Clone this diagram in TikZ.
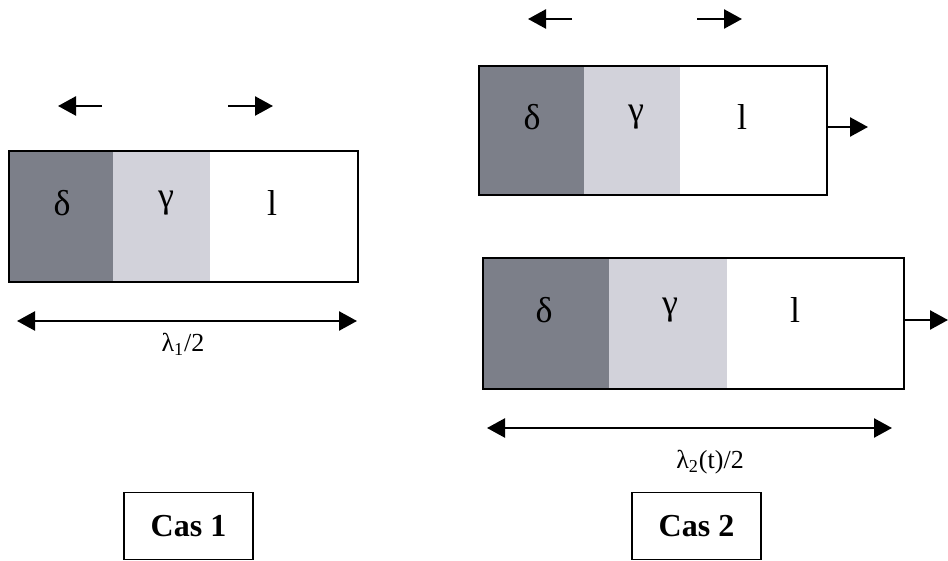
\documentclass[tikz,border=0pt]{standalone}
\usepackage{fontspec}
\setmainfont{Liberation Serif}
\usepackage{tikz}
\definecolor{deltagray}{RGB}{124,127,137}
\definecolor{gammagray}{RGB}{210,210,218}
\usetikzlibrary{arrows.meta}
\usetikzlibrary{positioning}
\tikzset{cell/.style={draw=none,inner sep=0pt,outer sep=0pt}}
\tikzset{phase/.style={font=\fontsize{18}{18}\selectfont}}
\tikzset{dim/.style={font=\fontsize{13}{13}\selectfont}}
\tikzset{line/.style={black,line width=1.2pt,-{Triangle[length=9pt,width=9.5pt]}}}
\tikzset{dline/.style={black,line width=1.2pt,{Triangle[length=9pt,width=9.5pt]}-{Triangle[length=9pt,width=9.5pt]}}}
\tikzset{casbox/.style={draw,line width=0.8pt,minimum width=64.5pt,minimum height=33.5pt,font=\bfseries\fontsize{16}{16}\selectfont}}

\begin{document}
\begin{tikzpicture}[x=0.5pt,y=-0.5pt]
        \useasboundingbox (0,0) rectangle (948,561);
        % Cas 1
        \node[cell,fill=deltagray,minimum width=52pt,minimum height=65.5pt,anchor=north west] (d1) at (9,151) {};
        \node[cell,fill=gammagray,minimum width=48.5pt,minimum height=65.5pt,right=0pt of d1] (g1) {};
        \node[cell,fill=white,minimum width=74pt,minimum height=65.5pt,right=0pt of g1] (l1) {};
        \draw[line width=1pt] (d1.north west) rectangle (l1.south east);
        \node[phase] at (62,203) {δ};
        \node[phase] at (166,203) {γ};
        \node[phase] at (272,203) {l};
        \coordinate (a1s) at (102,106);
        \coordinate (a1e) at (58,106);
        \coordinate (b1s) at (228,106);
        \coordinate (b1e) at (273,106);
        \draw[line] (a1s) -- (a1e);
        \draw[line] (b1s) -- (b1e);
        \coordinate (w1l) at (17,321);
        \coordinate (w1r) at (357,321);
        \draw[dline] (w1l) -- (w1r);
        \node[dim] (lam1) at (183,344) {λ\textsubscript{1}/2};
        % Cas 2, haut
        \node[cell,fill=deltagray,minimum width=52.5pt,minimum height=64.5pt,anchor=north west] (d2) at (479,66) {};
        \node[cell,fill=gammagray,minimum width=48pt,minimum height=64.5pt,right=0pt of d2] (g2) {};
        \node[cell,fill=white,minimum width=73.5pt,minimum height=64.5pt,right=0pt of g2] (l2) {};
        \draw[line width=1pt] (d2.north west) rectangle (l2.south east);
        \node[phase] at (532,117) {δ};
        \node[phase] at (636,117) {γ};
        \node[phase] at (742,117) {l};
        \coordinate (a2s) at (572,19);
        \coordinate (a2e) at (528,19);
        \coordinate (b2s) at (697,19);
        \coordinate (b2e) at (742,19);
        \draw[line] (a2s) -- (a2e);
        \draw[line] (b2s) -- (b2e);
        \coordinate (s2) at (868,127);
        \draw[line] (l2.east |- s2) -- (s2);
        % Cas 2, bas
        \node[cell,fill=deltagray,minimum width=63pt,minimum height=65.5pt,anchor=north west] (d3) at (483,258) {};
        \node[cell,fill=gammagray,minimum width=59pt,minimum height=65.5pt,right=0pt of d3] (g3) {};
        \node[cell,fill=white,minimum width=88.5pt,minimum height=65.5pt,right=0pt of g3] (l3) {};
        \draw[line width=1pt] (d3.north west) rectangle (l3.south east);
        \node[phase] at (544,310) {δ};
        \node[phase] at (670,310) {γ};
        \node[phase] at (795,310) {l};
        \coordinate (s3) at (948,320);
        \draw[line] (l3.east |- s3) -- (s3);
        \coordinate (w2l) at (487,428);
        \coordinate (w2r) at (892,428);
        \draw[dline] (w2l) -- (w2r);
        \node[dim] (lam2) at (710,462) {λ\textsubscript{2}(t)/2};
        % cas
        \node[casbox] (cas1) at (188.5,526) {Cas 1};
        \node[casbox] (cas2) at (696.5,526) {Cas 2};
      \end{tikzpicture}
\end{document}
